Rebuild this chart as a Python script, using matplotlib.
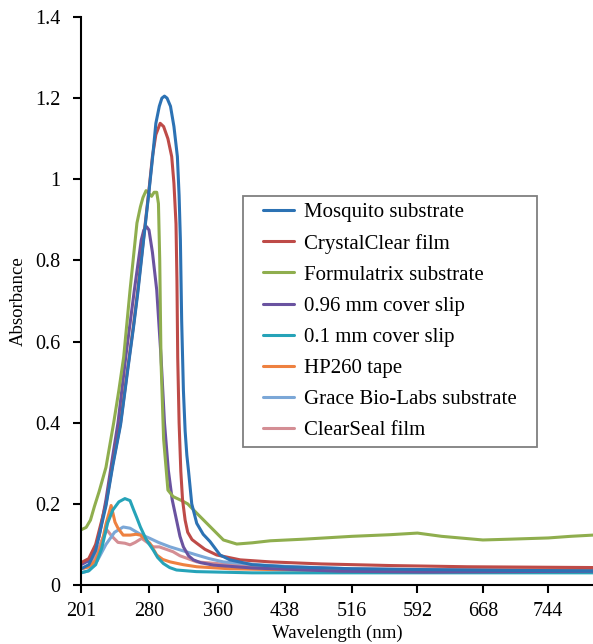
import matplotlib
matplotlib.use("Agg")
import matplotlib.pyplot as plt
from matplotlib.patches import Rectangle

# Absorbance spectra (wavelength in nm)
mosquito_wl = [201, 210, 218, 224, 230, 238, 247, 255, 262, 267, 274, 280, 284, 288, 292, 295, 298, 301, 305, 309, 313, 315, 316.5, 318, 320, 322, 324, 326, 329.7, 335.5, 343, 351, 362.6, 374, 400, 438, 516, 600, 700, 800]
mosquito_ab = [0.04, 0.05, 0.085, 0.14, 0.195, 0.295, 0.395, 0.525, 0.635, 0.72, 0.855, 0.97, 1.05, 1.138, 1.18, 1.20, 1.205, 1.20, 1.18, 1.13, 1.056, 0.96, 0.85, 0.65, 0.48, 0.38, 0.32, 0.28, 0.20, 0.152, 0.125, 0.107, 0.074, 0.062, 0.05, 0.045, 0.04, 0.038, 0.036, 0.035]

crystal_wl = [201, 210, 218, 224, 230, 238, 247, 255, 262, 267, 274, 280, 284, 288, 293, 297, 302, 306.4, 309, 311.4, 312.5, 313.4, 315, 317, 319, 322, 325, 330, 335.5, 345, 358.7, 386, 421, 480, 560, 650, 800]
crystal_ab = [0.055, 0.065, 0.10, 0.15, 0.20, 0.30, 0.40, 0.53, 0.64, 0.727, 0.86, 0.974, 1.056, 1.11, 1.138, 1.13, 1.10, 1.056, 0.99, 0.89, 0.75, 0.56, 0.40, 0.28, 0.21, 0.16, 0.13, 0.112, 0.103, 0.088, 0.074, 0.062, 0.057, 0.052, 0.048, 0.045, 0.043]

formulatrix_wl = [201, 207, 212, 216.5, 222, 230, 239, 245, 250.6, 258, 266, 270, 273, 276.6, 280, 283, 286, 289, 291, 292.5, 294, 297, 302, 308, 318, 325, 335.5, 351, 366.5, 382, 400, 421, 460, 516, 560, 592, 620, 668, 700, 744, 770, 796]
formulatrix_ab = [0.136, 0.142, 0.16, 0.193, 0.23, 0.29, 0.40, 0.48, 0.562, 0.727, 0.892, 0.932, 0.955, 0.972, 0.965, 0.958, 0.968, 0.968, 0.94, 0.80, 0.55, 0.36, 0.234, 0.218, 0.208, 0.20, 0.177, 0.144, 0.111, 0.101, 0.104, 0.109, 0.113, 0.12, 0.124, 0.128, 0.12, 0.111, 0.113, 0.116, 0.12, 0.123]

cover096_wl = [201, 210, 216, 222, 230, 238, 244, 253, 263, 271, 274, 277.3, 280, 284, 289, 294, 298, 302.5, 307, 312, 316, 320, 326, 331.6, 340, 355, 400, 450, 500, 600, 700, 800]
cover096_ab = [0.05, 0.06, 0.085, 0.119, 0.21, 0.32, 0.40, 0.562, 0.727, 0.85, 0.875, 0.883, 0.875, 0.82, 0.727, 0.562, 0.40, 0.283, 0.21, 0.16, 0.12, 0.094, 0.072, 0.062, 0.055, 0.049, 0.042, 0.038, 0.034, 0.032, 0.033, 0.034]

cover01_wl = [201, 210, 218, 225, 232, 238, 245, 252, 258, 262, 266, 270, 277, 285, 290, 296.7, 304, 312, 335, 400, 500, 600, 700, 800]
cover01_ab = [0.03, 0.035, 0.05, 0.09, 0.153, 0.185, 0.205, 0.213, 0.208, 0.186, 0.165, 0.143, 0.111, 0.086, 0.068, 0.053, 0.043, 0.037, 0.033, 0.03, 0.03, 0.03, 0.03, 0.03]

hp260_wl = [201, 210, 218, 225, 230, 236, 240.5, 244, 250, 258, 265, 270, 276, 281, 289, 296, 304.5, 320, 335.5, 374, 450, 550, 650, 800]
hp260_ab = [0.04, 0.045, 0.06, 0.10, 0.15, 0.196, 0.155, 0.14, 0.123, 0.123, 0.125, 0.123, 0.113, 0.103, 0.074, 0.063, 0.057, 0.05, 0.045, 0.04, 0.037, 0.035, 0.036, 0.037]

grace_wl = [201, 210, 220, 230, 240, 250, 258, 270, 281, 291, 304.5, 320, 335.5, 350, 366.5, 413, 450, 516, 600, 700, 800]
grace_ab = [0.03, 0.035, 0.06, 0.10, 0.13, 0.143, 0.14, 0.125, 0.115, 0.105, 0.094, 0.084, 0.074, 0.065, 0.057, 0.049, 0.045, 0.04, 0.037, 0.035, 0.034]

clearseal_wl = [201, 210, 218, 225, 231, 237, 244, 252, 258, 264, 271.5, 278, 285, 292, 300, 308, 316, 324, 335.5, 358.7, 400, 500, 600, 800]
clearseal_ab = [0.04, 0.045, 0.07, 0.11, 0.136, 0.12, 0.105, 0.103, 0.099, 0.105, 0.115, 0.105, 0.094, 0.094, 0.088, 0.082, 0.072, 0.066, 0.057, 0.053, 0.045, 0.04, 0.038, 0.038]

series = [
    ("Mosquito substrate", mosquito_wl, mosquito_ab, "#2c72b4"),
    ("CrystalClear film", crystal_wl, crystal_ab, "#be4b48"),
    ("Formulatrix substrate", formulatrix_wl, formulatrix_ab, "#8fae4e"),
    ("0.96 mm cover slip", cover096_wl, cover096_ab, "#6a53a0"),
    ("0.1 mm cover slip", cover01_wl, cover01_ab, "#26a3b8"),
    ("HP260 tape", hp260_wl, hp260_ab, "#ee8140"),
    ("Grace Bio-Labs substrate", grace_wl, grace_ab, "#7ba7d7"),
    ("ClearSeal film", clearseal_wl, clearseal_ab, "#d48e94"),
]

x_ticks = [201, 280, 360, 438, 516, 592, 668, 744]
y_ticks = [0, 0.2, 0.4, 0.6, 0.8, 1.0, 1.2, 1.4]
y_labels = ["0", "0.2", "0.4", "0.6", "0.8", "1", "1.2", "1.4"]

plt.rcParams['font.family'] = ['Liberation Serif', 'DejaVu Serif']

fig = plt.figure(figsize=(5.93, 6.44), dpi=100)
ax = fig.add_axes([0.1366, 0.0916, 0.8634, 0.882])

# draw in reverse so the first series ends up on top, like the original
for name, wl, ab, color in reversed(series):
    ax.plot(wl, ab, color=color, linewidth=2.2, label=name,
            solid_capstyle='round', solid_joinstyle='round')

ax.set_xlim(201, 796)
ax.set_ylim(0, 1.4)
ax.set_xticks(x_ticks)
ax.set_yticks(y_ticks)
ax.set_yticklabels(y_labels)
ax.tick_params(labelsize=14.5, direction='out', length=6, width=1.5)
ax.tick_params(axis='y', pad=9)
ax.tick_params(axis='x', pad=6)
ax.spines['top'].set_visible(False)
ax.spines['right'].set_visible(False)
ax.spines['left'].set_linewidth(1.5)
ax.spines['bottom'].set_linewidth(1.5)

ax.set_xlabel("Wavelength (nm)", fontsize=13.5, labelpad=3)
ax.set_ylabel("Absorbance", fontsize=13.5, labelpad=6)

# legend box (frame drawn separately so the padding can be wider than tall)
box_x0, box_y0, box_x1, box_y1 = 0.3164, 0.2434, 0.8906, 0.6849
ax.add_patch(Rectangle((box_x0, box_y0), box_x1 - box_x0, box_y1 - box_y0,
                       transform=ax.transAxes, facecolor='white',
                       edgecolor='#7f7f7f', linewidth=1.3, zorder=4))

handles, labels = ax.get_legend_handles_labels()
leg = ax.legend(handles[::-1], labels[::-1], loc='center',
                bbox_to_anchor=((box_x0 + box_x1) / 2, (box_y0 + box_y1) / 2),
                borderaxespad=0, fontsize=15, frameon=False,
                handlelength=1.5, handletextpad=0.5, labelspacing=0.55,
                borderpad=0.2)
leg.set_zorder(5)

fig.savefig("out.png", dpi=100)
